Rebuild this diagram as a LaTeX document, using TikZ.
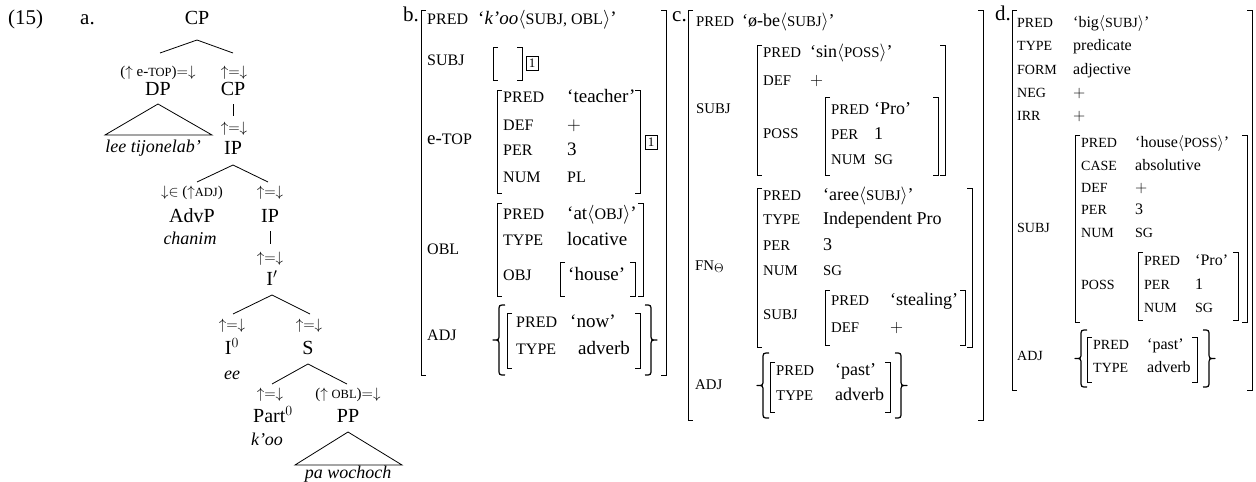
\RequirePackage{fix-cm}
\documentclass[tikz,border=0pt]{standalone}
\usepackage{fontspec}
\setmainfont{Liberation Serif}
\newcommand\scs{12}
\newcommand\SC[1]{{\fontsize{\scs}{\scs}\selectfont #1}}
\newcommand\Lbr[3]{\draw[br] (#1+5,#2) -- (#1,#2) -- (#1,#3) -- (#1+5,#3);}
\newcommand\Rbr[3]{\draw[br] (#1-5,#2) -- (#1,#2) -- (#1,#3) -- (#1-5,#3);}
\newcommand\Bx[4]{\Lbr{#1}{#3}{#4}\Rbr{#2}{#3}{#4}}
\newcommand\AV[6]{\node[fs] (#1a) at (#2,#4) {\SC{#5}};\node[fs] (#1v) at (#3,#4) {#6};}
% curly braces: #1 = tip x, #2 = top, #3 = bottom
\newcommand\LBrace[3]{\draw[brc] (#1+12,#2) .. controls (#1+6,#2) .. (#1+6,#2+6) -- (#1+6,{(#2+#3)/2-6}) .. controls (#1+6,{(#2+#3)/2}) .. (#1,{(#2+#3)/2}) .. controls (#1+6,{(#2+#3)/2}) .. (#1+6,{(#2+#3)/2+6}) -- (#1+6,#3-6) .. controls (#1+6,#3) .. (#1+12,#3);}
\newcommand\RBrace[3]{\draw[brc] (#1-12,#2) .. controls (#1-6,#2) .. (#1-6,#2+6) -- (#1-6,{(#2+#3)/2-6}) .. controls (#1-6,{(#2+#3)/2}) .. (#1,{(#2+#3)/2}) .. controls (#1-6,{(#2+#3)/2}) .. (#1-6,{(#2+#3)/2+6}) -- (#1-6,#3-6) .. controls (#1-6,#3) .. (#1-12,#3);}
\tikzset{
 tl/.style={inner sep=0pt, anchor=mid, font=\fontsize{20}{20}\selectfont},
 lab/.style={inner sep=0pt, font=\fontsize{21}{21}\selectfont},
 ann/.style={inner sep=0pt, anchor=mid, font=\fontsize{15}{15}\selectfont\renewcommand\scs{12.5}},
 itw/.style={inner sep=0pt, anchor=mid, font=\fontsize{18}{18}\selectfont\itshape},
 bt/.style={inner sep=0pt, anchor=mid west, font=\fontsize{19}{19}\selectfont\renewcommand\scs{16}},
 ct/.style={inner sep=0pt, anchor=mid west, font=\fontsize{18}{18}\selectfont\renewcommand\scs{14.8}},
 dt/.style={inner sep=0pt, anchor=mid west, font=\fontsize{16}{16}\selectfont\renewcommand\scs{14}},
 brc/.style={line width=1.2pt, line join=round},
 br/.style={line width=0.9pt},
 ln/.style={line width=0.8pt},
 tag/.style={draw, line width=0.6pt, inner sep=0pt, minimum width=12pt, minimum height=14pt, font=\fontsize{13}{13}\selectfont},
}
\begin{document}
\begin{tikzpicture}[x=1pt,y=-1pt]
\useasboundingbox (0,0) rectangle (1256,482);
% ---------- (a) tree ----------
\node[lab, anchor=mid west] (n15) at (8,22) {(15)};
\node[lab, anchor=mid west] (na) at (80,22) {a.};
\node[tl] (cp1) at (197,22) {CP};
\node[ann] (a1) at (158,74) {(${\uparrow}$ e-\SC{TOP})${=}{\downarrow}$};
\node[ann] (a2) at (234,74) {${\uparrow}{=}{\downarrow}$};
\node[tl] (dp) at (158,93) {DP};
\node[tl] (cp2) at (233,93) {CP};
\node[itw] (lee) at (153,150) {lee tijonelab'};
\node[ann] (a3) at (234,130) {${\uparrow}{=}{\downarrow}$};
\node[tl] (ip1) at (233,152) {IP};
\node[ann] (a4) at (192,194) {${\downarrow}{\in}$ (${\uparrow}$\SC{ADJ})};
\node[ann] (a5) at (270,194) {${\uparrow}{=}{\downarrow}$};
\node[tl] (advp) at (192,220) {AdvP};
\node[tl] (ip2) at (270,220) {IP};
\node[itw] (chanim) at (190,242) {chanim};
\node[ann] (a6) at (270,260) {${\uparrow}{=}{\downarrow}$};
\node[tl] (ibar) at (272,283) {I$'$};
\node[ann] (a7) at (232,327) {${\uparrow}{=}{\downarrow}$};
\node[ann] (a8) at (309,327) {${\uparrow}{=}{\downarrow}$};
\node[tl] (i0) at (232,352) {I$^0$};
\node[tl] (s) at (308,352) {S};
\node[itw] (ee) at (232,377) {ee};
\node[ann] (a9) at (270,396) {${\uparrow}{=}{\downarrow}$};
\node[ann] (a10) at (348,396) {(${\uparrow}$ \SC{OBL})${=}{\downarrow}$};
\node[tl] (part) at (273,420) {Part$^0$};
\node[tl] (pp) at (348,420) {PP};
\node[itw] (koo) at (267,443) {k'oo};
\node[itw] (paw) at (348,476) {pa wochoch};
% branch end points
\coordinate (cp1b) at (197,40);
\coordinate (dpt) at (160,53);
\coordinate (cp2t) at (233,53);
\coordinate (dpA) at (158,104);
\coordinate (dpL) at (105,135);
\coordinate (dpR) at (212,135);
\coordinate (cp2b) at (233,104);
\coordinate (a3t) at (233,116);
\coordinate (ip1b) at (233,165);
\coordinate (advt) at (197,182);
\coordinate (ip2t) at (268,182);
\coordinate (ip2b) at (270,231);
\coordinate (a6t) at (270,244);
\coordinate (ibarb) at (272,295);
\coordinate (i0t) at (233,314);
\coordinate (st) at (310,314);
\coordinate (sb) at (308,364);
\coordinate (partt) at (272,384);
\coordinate (ppt) at (347,384);
\coordinate (ppA) at (348,432);
\coordinate (ppL) at (295,465);
\coordinate (ppR) at (402,465);
\draw[ln] (dpt) -- (cp1b) -- (cp2t);
\draw[ln] (dpA) -- (dpL) -- (dpR) -- cycle;
\draw[ln] (cp2b) -- (a3t);
\draw[ln] (advt) -- (ip1b) -- (ip2t);
\draw[ln] (ip2b) -- (a6t);
\draw[ln] (i0t) -- (ibarb) -- (st);
\draw[ln] (partt) -- (sb) -- (ppt);
\draw[ln] (ppA) -- (ppL) -- (ppR) -- cycle;
% ---------- (b) ----------
\node[lab, anchor=mid east] (lb) at (419,19) {b.};
\Lbr{421}{10}{375}\Rbr{666}{10}{375}
\begin{scope}[fs/.style={bt}]
\AV{bpred}{427}{478}{22}{PRED}{`\textit{k'oo}$\langle$\SC{SUBJ, OBL}$\rangle$'}
\node[fs] (bsubj) at (427,63) {\SC{SUBJ}};
\Bx{493}{522}{47}{80}
\node[tag] (t1) at (532,63) {1};
\node[fs] (betop) at (427,142) {e-\SC{TOP}};
\Bx{497}{640}{90}{193}
\AV{bep}{503}{567}{100}{PRED}{`teacher'}
\AV{bed}{503}{567}{128}{DEF}{$+$}
\AV{bepe}{503}{567}{153}{PER}{3}
\AV{ben}{503}{567}{180}{NUM}{\SC{PL}}
\node[tag] (t2) at (651,142) {1};
\node[fs] (bobl) at (427,252) {\SC{OBL}};
\Bx{497}{643}{203}{296}
\AV{bop}{503}{567}{217}{PRED}{`at$\langle$\SC{OBJ}$\rangle$'}
\AV{bot}{503}{567}{243}{TYPE}{locative}
\AV{boo}{503}{568}{278}{OBJ}{`house'}
\Bx{560}{635}{262}{296}
\node[fs] (badj) at (427,338) {\SC{ADJ}};
\LBrace{493}{305}{375}
\RBrace{657}{305}{375}
\Bx{507}{640}{313}{368}
\AV{bap}{516}{570}{325}{PRED}{`now'}
\AV{bat}{516}{578}{352}{TYPE}{adverb}
\end{scope}
% ---------- (c) ----------
\node[lab, anchor=mid east] (lc) at (687,19) {c.};
\Lbr{688}{10}{420}\Rbr{983}{10}{420}
\begin{scope}[fs/.style={ct}]
\AV{cpred}{696}{742}{24}{PRED}{`ø-be$\langle$\SC{SUBJ}$\rangle$'}
\node[fs] (csubj) at (696,111) {\SC{SUBJ}};
\Bx{757}{945}{45}{175}
\AV{csp}{763}{810}{55}{PRED}{`sin$\langle$\SC{POSS}$\rangle$'}
\AV{csd}{763}{810}{83}{DEF}{$+$}
\node[fs] (csposs) at (763,136) {\SC{POSS}};
\Bx{825}{938}{97}{175}
\AV{cpp}{831}{874}{112}{PRED}{`Pro'}
\AV{cppe}{831}{874}{137}{PER}{1}
\AV{cpn}{831}{874}{162}{NUM}{\SC{SG}}
\node[fs] (cfn) at (695,268) {\SC{FN}$_{\Theta}$};
\Bx{757}{972}{188}{347}
\AV{cfp}{763}{823}{198}{PRED}{`aree$\langle$\SC{SUBJ}$\rangle$'}
\AV{cft}{763}{823}{222}{TYPE}{Independent Pro}
\AV{cfpe}{763}{823}{248}{PER}{3}
\AV{cfnm}{763}{823}{273}{NUM}{\SC{SG}}
\node[fs] (cfs) at (763,317) {\SC{SUBJ}};
\Bx{825}{965}{290}{345}
\AV{cfsp}{831}{890}{303}{PRED}{`stealing'}
\AV{cfsd}{831}{890}{330}{DEF}{$+$}
\node[fs] (cadj) at (695,387) {\SC{ADJ}};
\LBrace{757}{353}{418}
\RBrace{907}{353}{418}
\Bx{770}{890}{362}{412}
\AV{cap}{776}{835}{373}{PRED}{`past'}
\AV{cat}{776}{835}{398}{TYPE}{adverb}
\end{scope}
% ---------- (d) ----------
\node[lab, anchor=mid east] (ld) at (1011,18) {d.};
\Lbr{1012}{10}{390}\Rbr{1252}{10}{390}
\begin{scope}[fs/.style={dt}]
\AV{dpr}{1017}{1073}{25}{PRED}{`big$\langle$\SC{SUBJ}$\rangle$'}
\AV{dty}{1017}{1073}{48}{TYPE}{predicate}
\AV{dfo}{1017}{1073}{72}{FORM}{adjective}
\AV{dne}{1017}{1073}{95}{NEG}{$+$}
\AV{dir}{1017}{1073}{118}{IRR}{$+$}
\node[fs] (dsubj) at (1017,230) {\SC{SUBJ}};
\Bx{1075}{1247}{135}{322}
\AV{dsp}{1081}{1135}{145}{PRED}{`house$\langle$\SC{POSS}$\rangle$'}
\AV{dsc}{1081}{1135}{168}{CASE}{absolutive}
\AV{dsd}{1081}{1135}{190}{DEF}{$+$}
\AV{dspe}{1081}{1135}{212}{PER}{3}
\AV{dsn}{1081}{1135}{235}{NUM}{\SC{SG}}
\node[fs] (dsposs) at (1081,287) {\SC{POSS}};
\Bx{1138}{1238}{252}{320}
\AV{dpp}{1144}{1195}{263}{PRED}{`Pro'}
\AV{dppe}{1144}{1195}{287}{PER}{1}
\AV{dpn}{1144}{1195}{310}{NUM}{\SC{SG}}
\node[fs] (dadj) at (1017,358) {\SC{ADJ}};
\LBrace{1075}{330}{387}
\RBrace{1215}{330}{387}
\Bx{1087}{1197}{337}{382}
\AV{dap}{1093}{1147}{347}{PRED}{`past'}
\AV{dat}{1093}{1147}{370}{TYPE}{adverb}
\end{scope}
\end{tikzpicture}
\end{document}
